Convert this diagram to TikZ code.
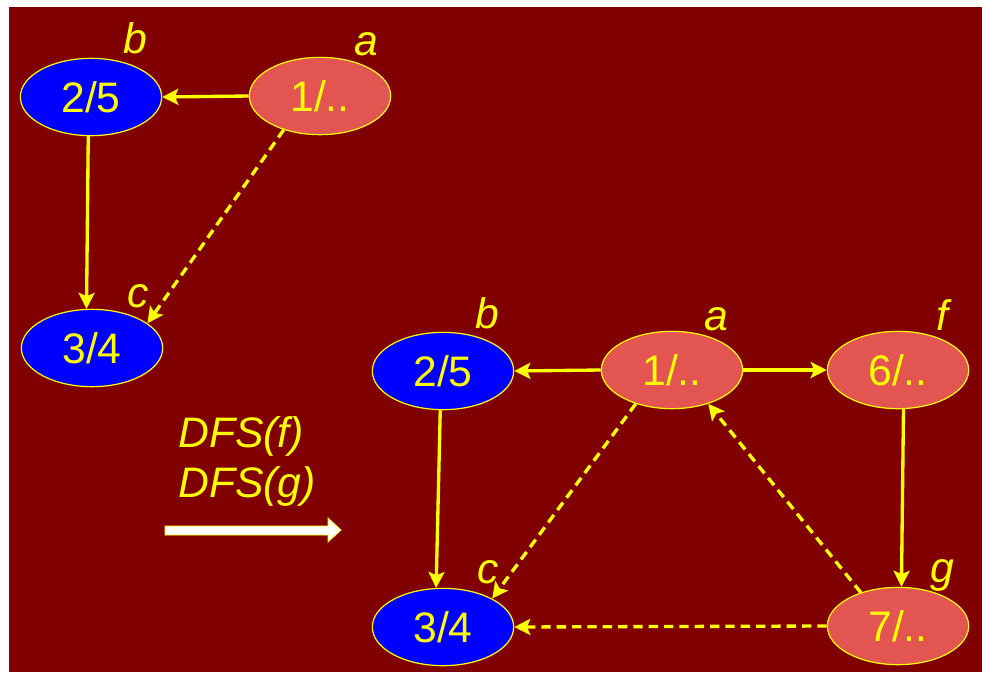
\documentclass[tikz,border=0pt]{standalone}
\usepackage{fontspec}
\setmainfont{Liberation Sans}
\usetikzlibrary{shapes.geometric,arrows.meta}
\definecolor{bgred}{RGB}{128,0,0}
\definecolor{salmon}{RGB}{226,85,80}
\definecolor{hiyellow}{RGB}{255,255,0}
\begin{document}
\begin{tikzpicture}[x=0.75pt,y=-0.75pt,
  vtx/.style={ellipse,draw=hiyellow,line width=0.9pt,minimum width=106pt,minimum height=58pt,
    text=hiyellow,font=\fontsize{32}{38}\selectfont,inner sep=0pt},
  done/.style={vtx,fill=blue},
  open/.style={vtx,fill=salmon},
  lbl/.style={text=hiyellow,font=\fontsize{32}{38}\selectfont\itshape,anchor=base,inner sep=0pt},
  tree/.style={hiyellow,line width=2.5pt,-{Stealth[length=12pt,width=12pt,inset=2.5pt]}},
  back/.style={tree,dash pattern=on 7pt off 4.5pt}]
\useasboundingbox (0,0) rectangle (982,672);
\fill[white] (0,0) rectangle (982,672);
\fill[bgred] (9,7) rectangle (982,672);
\node[done] (b1) at (91,97) {2/5};
\node[open] (a1) at (320,96) {1/..};
\node[done] (c1) at (92,348) {3/4};
\node[lbl] (lb1) at (135,53) {b};
\node[lbl] (la1) at (366,55) {a};
\node[lbl] (lc1) at (138,307) {c};
\draw[tree] (a1.west) -- (b1.east);
\draw[tree] (b1.-94) -- (c1.98);
\draw[back] (a1.-137) -- (c1.24);
\node[lbl,anchor=base west] (dfsf) at (178,447) {DFS(f)};
\node[lbl,anchor=base west] (dfsg) at (178,497) {DFS(g)};
\draw[fill=white,draw=hiyellow,line width=0.6pt]
  (165,526) -- (328,526) -- (328,518) -- (341,530) --
  (328,542) -- (328,535) -- (165,535) -- cycle;
\node[done] (b2) at (443,371) {2/5};
\node[open] (a2) at (672,370) {1/..};
\node[open] (f2) at (898,370) {6/..};
\node[done] (c2) at (443,627) {3/4};
\node[open] (g2) at (898,626) {7/..};
\node[lbl] (lb2) at (487,328) {b};
\node[lbl] (la2) at (716,330) {a};
\node[lbl] (lf2) at (942,330) {f};
\node[lbl] (lc2) at (488,583) {c};
\node[lbl] (lg2) at (942,582) {g};
\draw[tree] (a2.west) -- (b2.east);
\draw[tree] (a2.east) -- (f2.west);
\draw[tree] (b2.-94) -- (c2.100);
\draw[tree] (f2.-82) -- (g2.85);
\draw[back] (a2.-137) -- (c2.30);
\draw[back] (g2.138) -- (a2.-43);
\draw[back] (g2.west) -- (c2.east);
\end{tikzpicture}
\end{document}
